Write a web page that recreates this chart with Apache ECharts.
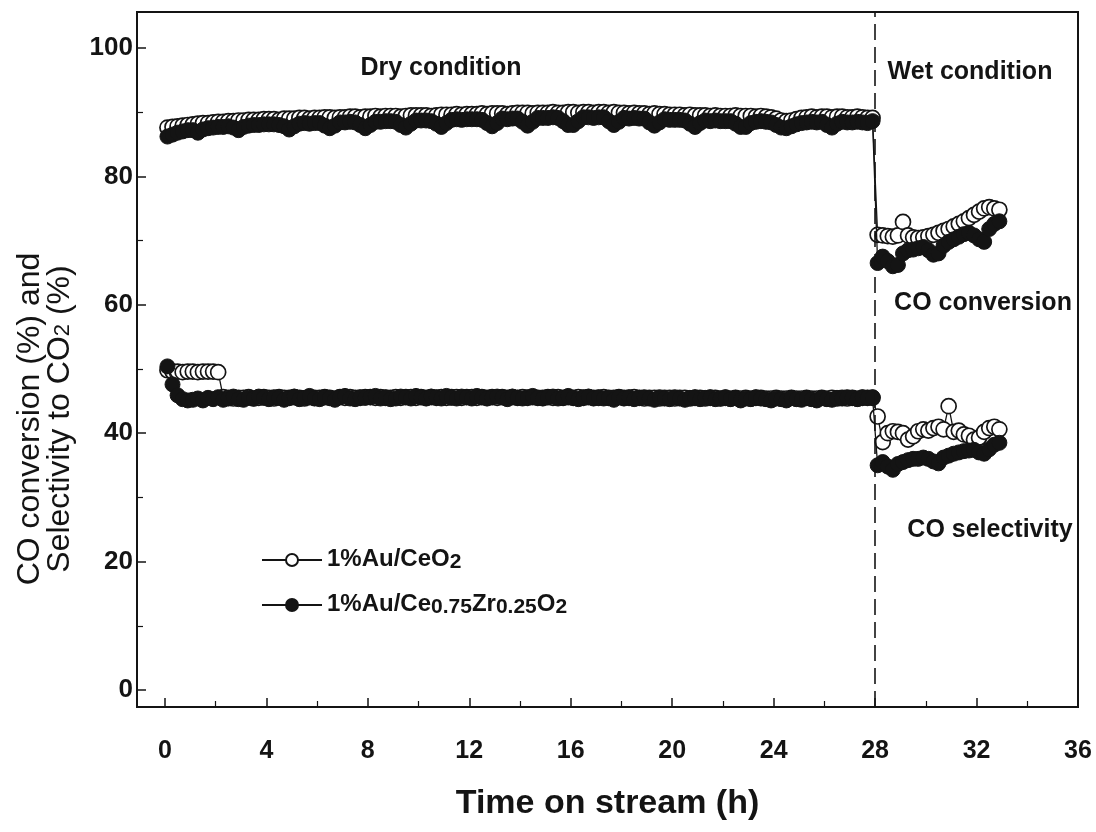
<!DOCTYPE html>
<html>
<head>
<meta charset="utf-8">
<script src="https://cdn.jsdelivr.net/npm/echarts@6/dist/echarts.min.js"></script>
<style>html,body{margin:0;padding:0;background:#fff}#c{width:1096px;height:832px}</style>
</head>
<body>
<div id="c"></div>
<script>
// ---- data ----
const xMajorTicks = [0,4,8,12,16,20,24,28,32,36];
const xMinorTicks = [2,6,10,14,18,22,26,30,34];
const yMajorTicks = [0,20,40,60,80,100];
const yMinorTicks = [10,30,50,70,90];

const dryTime = [
 0.1,0.3,0.5,0.7,0.9,1.1,1.3,1.5,1.7,1.9,
 2.1,2.3,2.5,2.7,2.9,3.1,3.3,3.5,3.7,3.9,
 4.1,4.3,4.5,4.7,4.9,5.1,5.3,5.5,5.7,5.9,
 6.1,6.3,6.5,6.7,6.9,7.1,7.3,7.5,7.7,7.9,
 8.1,8.3,8.5,8.7,8.9,9.1,9.3,9.5,9.7,9.9,
 10.1,10.3,10.5,10.7,10.9,11.1,11.3,11.5,11.7,11.9,
 12.1,12.3,12.5,12.7,12.9,13.1,13.3,13.5,13.7,13.9,
 14.1,14.3,14.5,14.7,14.9,15.1,15.3,15.5,15.7,15.9,
 16.1,16.3,16.5,16.7,16.9,17.1,17.3,17.5,17.7,17.9,
 18.1,18.3,18.5,18.7,18.9,19.1,19.3,19.5,19.7,19.9,
 20.1,20.3,20.5,20.7,20.9,21.1,21.3,21.5,21.7,21.9,
 22.1,22.3,22.5,22.7,22.9,23.1,23.3,23.5,23.7,23.9,
 24.1,24.3,24.5,24.7,24.9,25.1,25.3,25.5,25.7,25.9,
 26.1,26.3,26.5,26.7,26.9,27.1,27.3,27.5,27.7,27.9
];
const wetTime = [
 28.1,28.3,28.5,28.7,28.9,29.1,29.3,29.5,29.7,29.9,
 30.1,30.3,30.5,30.7,30.9,31.1,31.3,31.5,31.7,31.9,
 32.1,32.3,32.5,32.7,32.9
];

// CO conversion, 1%Au/CeO2 (open)
const ceConvDry = [
 87.6,87.7,87.8,87.9,88.0, 88.1,88.2,88.3,88.3,88.4,
 88.5,88.5,88.6,88.6,88.7, 88.7,88.8,88.8,88.8,88.9,
 88.9,88.9,88.8,89.0,89.0, 89.0,89.1,89.1,89.0,89.1,
 89.1,89.2,89.2,89.1,89.2, 89.2,89.3,89.3,89.2,89.3,
 89.3,89.4,89.3,89.4,89.4, 89.4,89.3,89.4,89.5,89.5,
 89.5,89.5,89.4,89.5,89.6, 89.6,89.6,89.7,89.6,89.7,
 89.7,89.7,89.8,89.7,89.8, 89.8,89.8,89.7,89.8,89.9,
 89.9,89.9,89.8,89.9,89.9, 89.9,90.0,89.9,89.9,90.0,
 90.0,89.9,90.0,90.0,89.9, 90.0,90.0,89.9,90.0,89.9,
 89.9,89.8,89.9,89.8,89.8, 89.7,89.8,89.7,89.7,89.6,
 89.6,89.6,89.5,89.6,89.5, 89.5,89.5,89.4,89.5,89.4,
 89.4,89.4,89.5,89.4,89.4, 89.4,89.3,89.4,89.3,89.2,
 89.0,88.7,88.6,88.7,88.9, 89.1,89.2,89.3,89.2,89.3,
 89.3,89.2,89.3,89.3,89.2, 89.2,89.3,89.2,89.1,89.1
];
const ceConvWet = [
 70.9,70.8,70.7,70.6,70.8,72.9,70.8,70.5,70.4,70.5,
 70.7,70.9,71.2,71.5,71.8,72.2,72.6,73.0,73.5,74.0,
 74.5,75.0,75.2,75.0,74.8
];
// CO selectivity, 1%Au/CeO2 (open)
const ceSelDry = [
 49.8,49.6,49.6,49.5,49.6, 49.6,49.5,49.6,49.6,49.6,
 49.5,45.6,45.5,45.4,45.5, 45.5,45.6,45.4,45.5,45.6,
 45.5,45.4,45.6,45.5,45.5, 45.6,45.5,45.4,45.6,45.5,
 45.5,45.6,45.5,45.4,45.6, 45.5,45.6,45.5,45.5,45.6,
 45.6,45.5,45.6,45.5,45.5, 45.6,45.5,45.6,45.6,45.5,
 45.6,45.5,45.6,45.5,45.6, 45.5,45.6,45.6,45.5,45.6,
 45.6,45.5,45.6,45.5,45.6, 45.5,45.6,45.5,45.6,45.5,
 45.6,45.5,45.6,45.5,45.5, 45.6,45.5,45.6,45.5,45.6,
 45.5,45.6,45.5,45.6,45.5, 45.5,45.6,45.5,45.5,45.6,
 45.5,45.5,45.6,45.5,45.4, 45.5,45.5,45.4,45.5,45.5,
 45.4,45.5,45.5,45.4,45.5, 45.5,45.4,45.5,45.5,45.4,
 45.5,45.4,45.5,45.4,45.5, 45.4,45.5,45.5,45.4,45.4,
 45.5,45.4,45.4,45.5,45.4, 45.4,45.5,45.4,45.4,45.5,
 45.4,45.5,45.4,45.5,45.4, 45.5,45.4,45.5,45.5,45.5
];
const ceSelWet = [
 42.6,38.6,40.0,40.3,40.2,40.0,39.0,39.5,40.3,40.6,
 40.4,40.8,41.0,40.6,44.2,40.2,40.4,39.8,39.6,39.0,
 39.3,40.2,40.8,41.0,40.6
];

// CO conversion, 1%Au/Ce0.75Zr0.25O2 (filled)
const czConvDry = [
 86.2,86.5,86.8,87.0,87.2, 87.2,86.8,87.3,87.5,87.6,
 87.7,87.7,87.8,87.6,87.2, 87.7,87.9,88.0,88.0,88.1,
 88.1,88.1,88.0,87.8,87.3, 87.8,88.2,88.3,88.2,88.3,
 88.3,87.9,87.5,87.9,88.4, 88.4,88.5,88.4,88.0,87.5,
 88.0,88.5,88.5,88.6,88.6, 88.5,88.0,87.6,88.2,88.7,
 88.7,88.7,88.6,88.2,87.7, 88.3,88.8,88.9,88.8,88.9,
 88.9,88.9,88.8,88.3,87.8, 88.3,89.0,88.9,89.0,89.0,
 88.5,87.9,88.5,89.1,89.1, 89.1,89.2,89.1,88.6,88.0,
 88.0,88.6,89.2,89.2,89.1, 89.2,89.2,88.6,88.0,88.5,
 89.1,89.0,89.1,89.0,89.0, 88.4,87.9,88.4,88.9,88.8,
 88.8,88.8,88.7,88.2,87.7, 88.3,88.7,88.6,88.7,88.6,
 88.6,88.6,88.2,87.7,87.7, 88.3,88.5,88.6,88.5,88.4,
 88.0,87.6,87.5,87.8,88.1, 88.3,88.4,88.5,88.4,88.5,
 88.0,87.6,88.2,88.5,88.4, 88.4,88.5,88.4,88.3,88.6
];
const czConvWet = [
 66.5,67.5,66.8,66.0,66.2,68.0,68.5,68.6,68.8,69.0,
 68.5,67.8,68.0,69.2,69.8,70.2,70.6,71.0,71.2,70.8,
 70.2,69.8,71.8,72.6,73.0
];
// CO selectivity, 1%Au/Ce0.75Zr0.25O2 (filled)
const czSelDry = [
 50.4,47.6,45.9,45.3,45.1, 45.2,45.4,45.1,45.5,45.3,
 45.6,45.2,45.4,45.7,45.3, 45.2,45.5,45.4,45.7,45.5,
 45.3,45.6,45.5,45.2,45.5, 45.7,45.3,45.5,45.8,45.4,
 45.3,45.6,45.5,45.2,45.6, 45.8,45.4,45.3,45.6,45.5,
 45.6,45.8,45.4,45.6,45.3, 45.4,45.7,45.6,45.4,45.8,
 45.6,45.4,45.7,45.6,45.4, 45.8,45.5,45.4,45.7,45.6,
 45.4,45.8,45.6,45.4,45.6, 45.7,45.6,45.3,45.7,45.5,
 45.4,45.6,45.8,45.5,45.4, 45.6,45.7,45.4,45.5,45.8,
 45.5,45.3,45.6,45.7,45.4, 45.6,45.4,45.5,45.2,45.6,
 45.4,45.6,45.3,45.5,45.6, 45.4,45.2,45.6,45.4,45.3,
 45.6,45.4,45.2,45.5,45.6, 45.3,45.5,45.6,45.3,45.4,
 45.6,45.3,45.5,45.1,45.4, 45.3,45.6,45.4,45.3,45.1,
 45.4,45.3,45.1,45.5,45.3, 45.2,45.5,45.3,45.1,45.5,
 45.3,45.2,45.5,45.4,45.6, 45.5,45.3,45.6,45.5,45.6
];
const czSelWet = [
 35.0,35.5,34.8,34.3,35.2,35.5,35.8,36.0,36.0,36.2,
 36.0,35.6,35.3,36.2,36.5,36.8,37.0,37.2,37.3,37.4,
 37.0,36.8,37.5,38.2,38.5
];

function pts(tA, vA, tB, vB) {
  const out = tA.map((t, i) => [t, vA[i]]);
  return out.concat(tB.map((t, i) => [t, vB[i]]));
}

const INK = '#141414';
const FONT = "'Liberation Sans', Arial, sans-serif";

const openSym = { color: '#ffffff', borderColor: INK, borderWidth: 1.7 };
const fillSym = { color: INK, borderColor: INK, borderWidth: 1 };

function lineSeries(name, data, itemStyle, z, extra) {
  return Object.assign({
    name: name, type: 'line', data: data,
    symbol: 'circle', symbolSize: 15, showSymbol: true,
    lineStyle: { color: INK, width: 1.3 },
    itemStyle: itemStyle, z: z, animation: false,
    emphasis: { disabled: true }
  }, extra || {});
}

const chart = echarts.init(document.getElementById('c'), null, { renderer: 'canvas' });

const option = {
  backgroundColor: '#ffffff',
  animation: false,
  textStyle: { fontFamily: FONT },
  grid: {
    left: 137, right: 18, top: 12, bottom: 125,
    show: true, borderColor: INK, borderWidth: 2, backgroundColor: 'transparent'
  },
  legend: {
    orient: 'vertical', left: 256, top: 529,
    itemWidth: 60, itemHeight: 15, itemGap: 6,
    data: ['ce', 'cz'],
    formatter: function (n) {
      return n === 'ce'
        ? '{t|1%Au/CeO}{s|2}'
        : '{t|1%Au/Ce}{s|0.75}{t|Zr}{s|0.25}{t|O}{s|2}';
    },
    textStyle: {
      fontFamily: FONT, color: INK,
      rich: {
        t: { fontSize: 24, fontWeight: 'bold', fontFamily: FONT, color: INK, lineHeight: 26, verticalAlign: 'top' },
        s: { fontSize: 21, fontWeight: 'bold', fontFamily: FONT, color: INK, lineHeight: 20, verticalAlign: 'bottom', padding: [18, 0, 0, 0] }
      }
    }
  },
  xAxis: [{
    type: 'value', min: -1.1, max: 36,
    axisLine: { show: true, onZero: false, lineStyle: { color: INK, width: 2 } },
    axisTick: { show: true, inside: true, length: 9, lineStyle: { color: INK, width: 1.5 }, customValues: xMajorTicks },
    axisLabel: { customValues: xMajorTicks, fontSize: 25, fontWeight: 'bold', color: INK, fontFamily: FONT, margin: 32 },
    splitLine: { show: false },
    name: 'Time on stream (h)', nameLocation: 'middle', nameGap: 80,
    nameTextStyle: { fontSize: 34, fontWeight: 'bold', color: INK, fontFamily: FONT }
  }, {
    type: 'value', min: -1.1, max: 36, position: 'bottom', gridIndex: 0,
    axisLine: { show: false, onZero: false },
    axisTick: { show: true, inside: true, length: 6, lineStyle: { color: INK, width: 1.2 }, customValues: xMinorTicks },
    axisLabel: { show: false },
    splitLine: { show: false }
  }],
  yAxis: [{
    type: 'value', min: -2.65, max: 105.6,
    axisLine: { show: true, onZero: false, lineStyle: { color: INK, width: 2 } },
    axisTick: { show: true, inside: true, length: 9, lineStyle: { color: INK, width: 1.5 }, customValues: yMajorTicks },
    axisLabel: { customValues: yMajorTicks, fontSize: 26, fontWeight: 'bold', color: INK, fontFamily: FONT, margin: 4 },
    splitLine: { show: false }
  }, {
    type: 'value', min: -2.65, max: 105.6, position: 'left',
    axisLine: { show: false, onZero: false },
    axisTick: { show: true, inside: true, length: 6, lineStyle: { color: INK, width: 1.2 }, customValues: yMinorTicks },
    axisLabel: { show: false },
    splitLine: { show: false }
  }],
  series: [
    lineSeries('ce', pts(dryTime, ceConvDry, wetTime, ceConvWet), openSym, 2, {
      markLine: {
        silent: true, symbol: ['none', 'none'], label: { show: false },
        lineStyle: { color: INK, width: 1.6, type: [16, 7] },
        data: [{ xAxis: 28 }]
      }
    }),
    lineSeries('ce', pts(dryTime, ceSelDry, wetTime, ceSelWet), openSym, 2),
    lineSeries('cz', pts(dryTime, czConvDry, wetTime, czConvWet), fillSym, 3),
    lineSeries('cz', pts(dryTime, czSelDry, wetTime, czSelWet), fillSym, 3)
  ],
  graphic: [
    { type: 'text', x: 44, y: 419, rotation: Math.PI / 2,
      style: {
        text: '{a|CO conversion (%) and}\n{a|Selectivity to CO}{b|2}{a| (%)}',
        textAlign: 'center', textVerticalAlign: 'middle',
        rich: {
          a: { fontSize: 32, fontFamily: FONT, fill: INK, color: INK, lineHeight: 30, verticalAlign: 'top' },
          b: { fontSize: 22, fontFamily: FONT, fill: INK, color: INK, lineHeight: 20, verticalAlign: 'bottom', padding: [18, 0, 0, 0] }
        }
      } },
    { type: 'text', x: 441, y: 68, style: { text: 'Dry condition', font: "bold 25px " + FONT, fill: INK, textAlign: 'center', textVerticalAlign: 'middle' } },
    { type: 'text', x: 970, y: 72, style: { text: 'Wet condition', font: "bold 25px " + FONT, fill: INK, textAlign: 'center', textVerticalAlign: 'middle' } },
    { type: 'text', x: 983, y: 303, style: { text: 'CO conversion', font: "bold 25px " + FONT, fill: INK, textAlign: 'center', textVerticalAlign: 'middle' } },
    { type: 'text', x: 990, y: 530, style: { text: 'CO selectivity', font: "bold 25px " + FONT, fill: INK, textAlign: 'center', textVerticalAlign: 'middle' } }
  ]
};
chart.setOption(option);
</script>
</body>
</html>
